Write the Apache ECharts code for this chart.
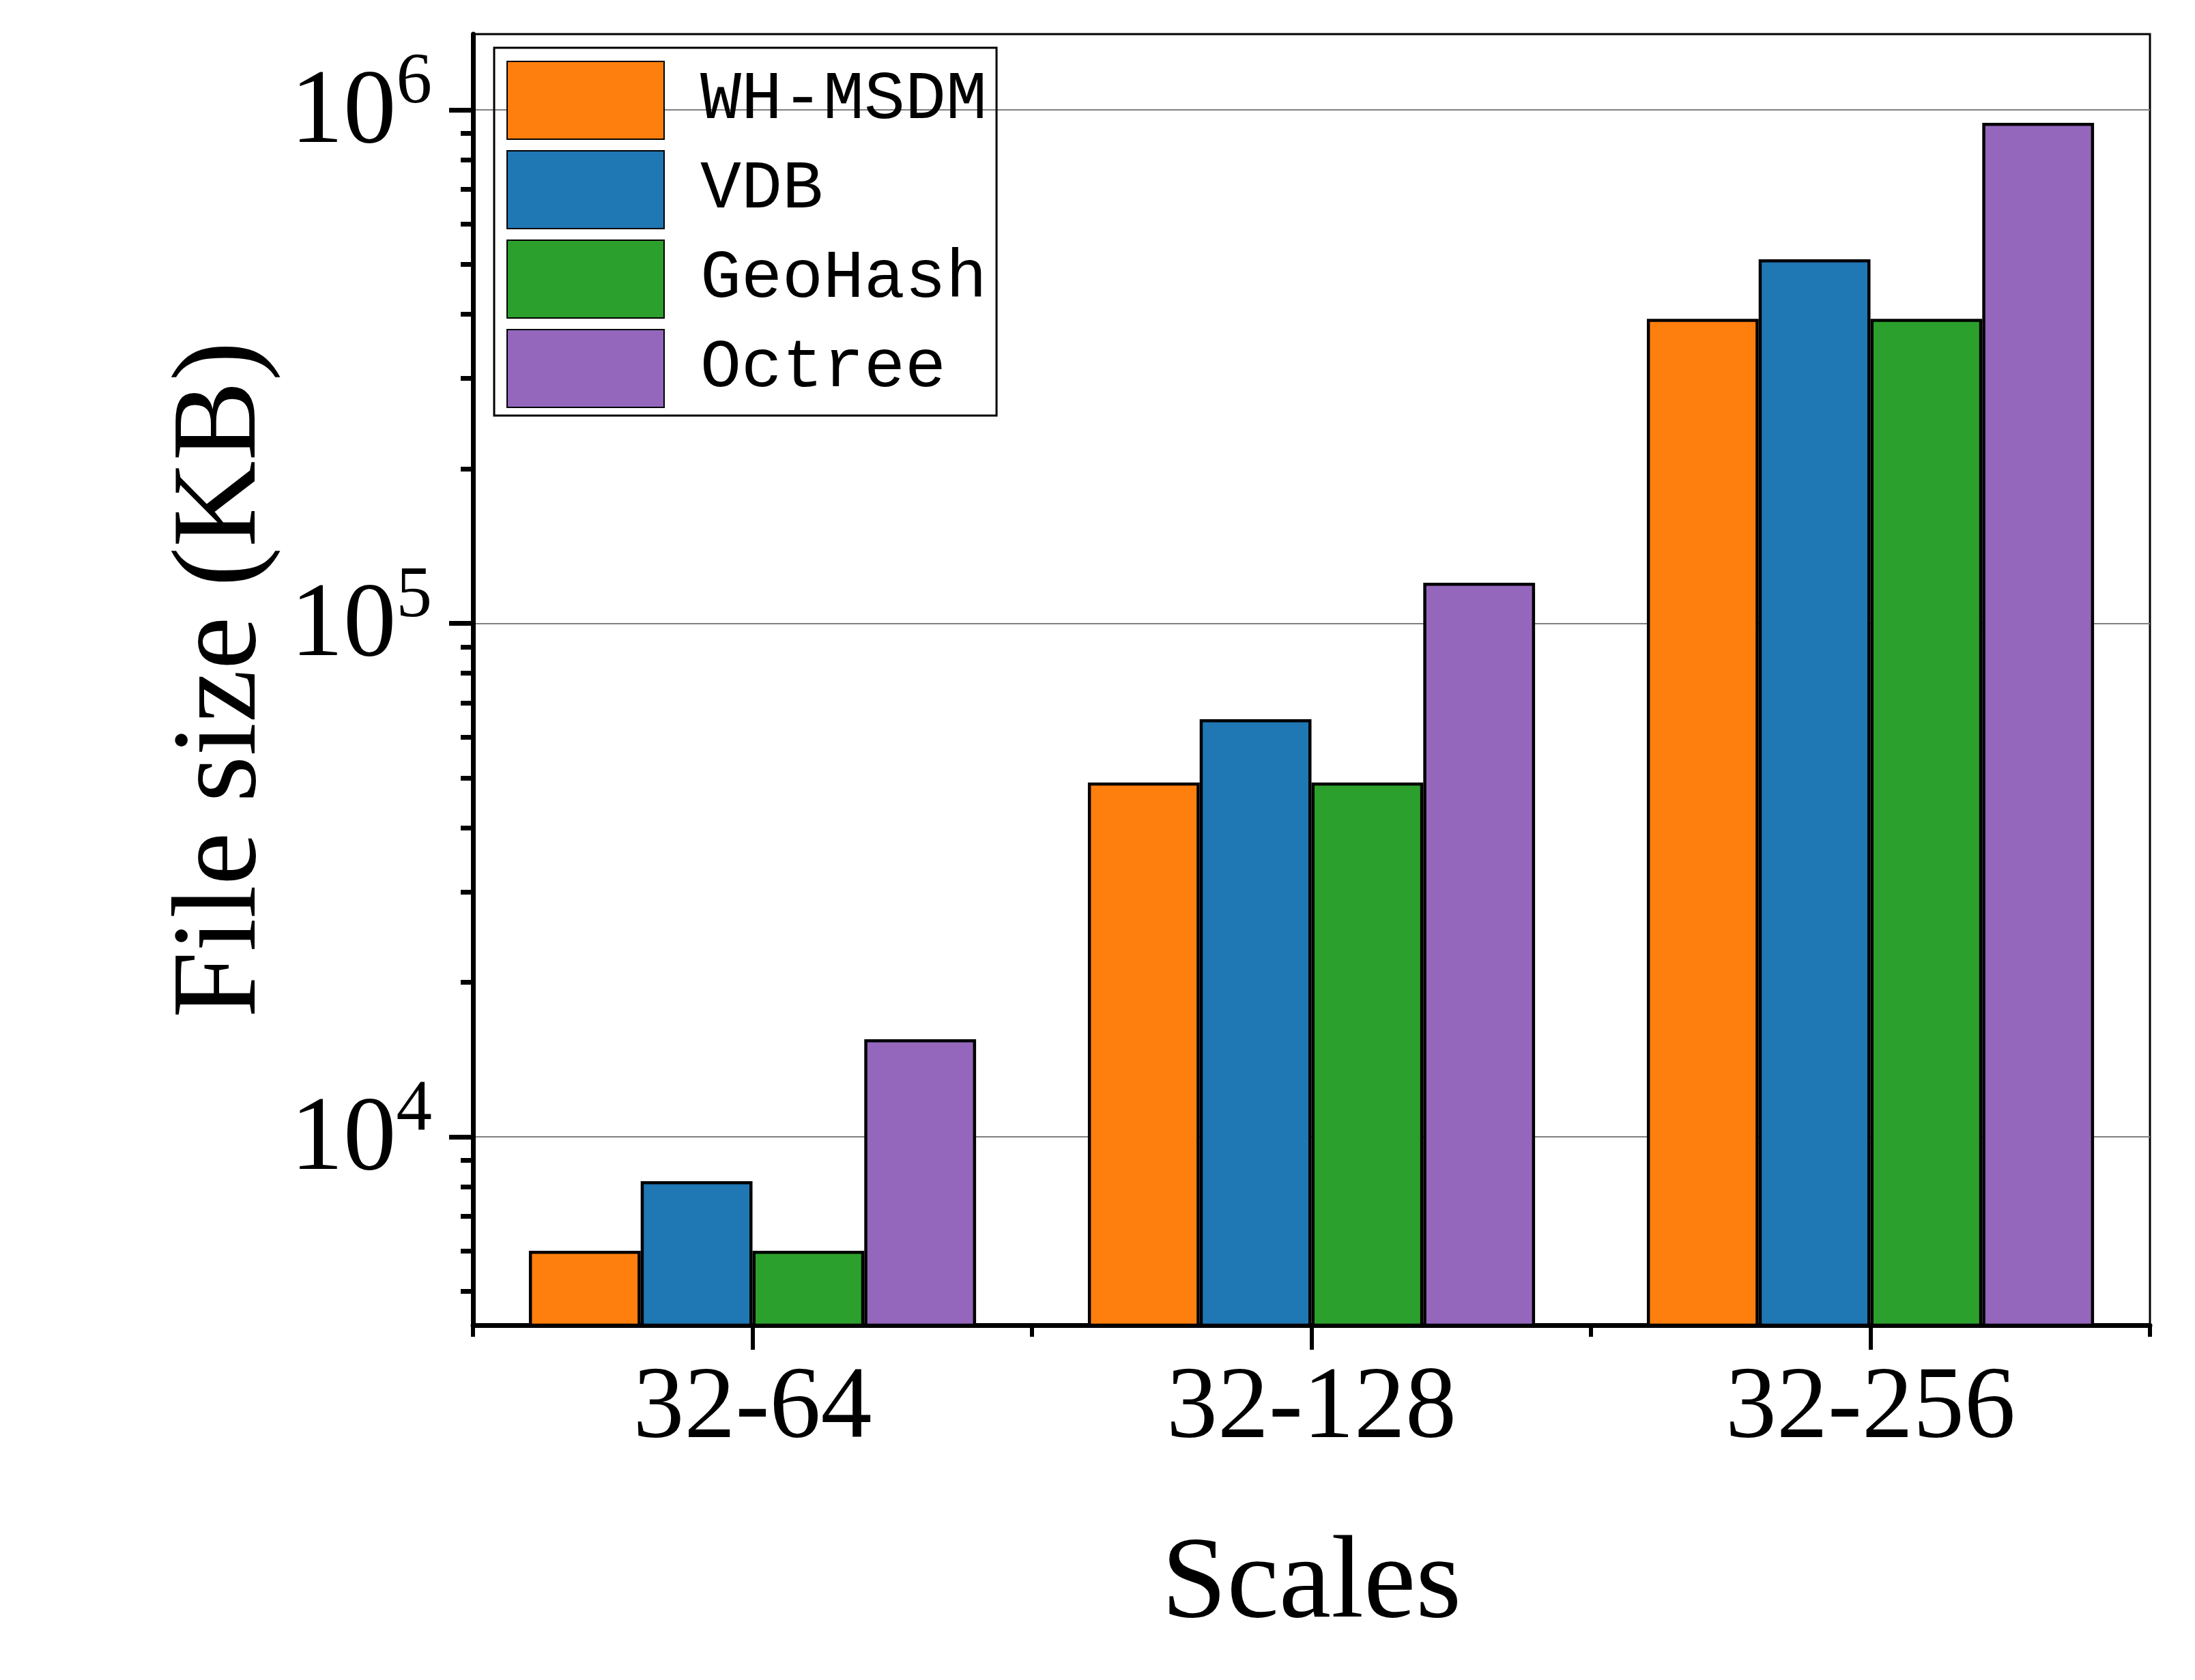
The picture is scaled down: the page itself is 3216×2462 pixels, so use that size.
<!DOCTYPE html>
<html>
<head>
<meta charset="utf-8">
<script src="https://cdn.jsdelivr.net/npm/echarts@6/dist/echarts.min.js"></script>
<style>
  html, body { margin: 0; padding: 0; background: #fff; }
  #main { width: 3216px; height: 2462px; }
</style>
</head>
<body>
<div id="main"></div>
<script>
var scales = ["32-64", "32-128", "32-256"];
var names = ["WH-MSDM", "VDB", "GeoHash", "Octree"];
var colors = ["#ff7f0e", "#1f77b4", "#2ca02c", "#9467bd"];
var whMsdm = [6000, 49000, 392000];
var vdb = [8200, 65100, 512000];
var geoHash = [6000, 49000, 392000];
var octree = [15500, 120000, 944000];
var majorTicks = [1e4, 1e5, 1e6];
var minorTicks = [5000, 6000, 7000, 8000, 9000,
  20000, 30000, 40000, 50000, 60000, 70000, 80000, 90000,
  200000, 300000, 400000, 500000, 600000, 700000, 800000, 900000];
var yMin = 4300, yMax = 1405000;

var serif = "Liberation Serif";
var myChart = echarts.init(document.getElementById("main"));

var seriesData = [whMsdm, vdb, geoHash, octree];
var series = [];
for (var i = 0; i < names.length; i++) {
  series.push({
    name: names[i],
    type: "bar",
    data: seriesData[i],
    barWidth: "20%",
    barGap: "0%",
    itemStyle: { color: colors[i], borderColor: "#000", borderWidth: 4.5 }
  });
}

var option = {
  animation: false,
  backgroundColor: "#fff",
  grid: {
    left: 693, right: 66, top: 50, bottom: 520,
    show: true, borderColor: "#000", borderWidth: 3
  },
  legend: {
    orient: "vertical",
    left: 724, top: 70,
    padding: [19, 14, 11, 18],
    borderColor: "#000", borderWidth: 3,
    itemWidth: 230, itemHeight: 114, itemGap: 15,
    icon: "rect",
    textStyle: { fontFamily: "Liberation Mono", fontSize: 100, color: "#000", padding: [0, 0, 0, 48] },
    data: names
  },
  xAxis: [{
    type: "category",
    data: scales,
    name: "Scales",
    nameLocation: "middle",
    nameGap: 296,
    nameTextStyle: { fontFamily: serif, fontSize: 172, color: "#000" },
    axisLine: { onZero: false, lineStyle: { color: "#000", width: 7 } },
    axisTick: { show: true, length: 17, lineStyle: { color: "#000", width: 6 } },
    axisLabel: { fontFamily: serif, fontSize: 150, color: "#000", margin: 50 },
    splitLine: { show: false }
  }, {
    type: "category",
    data: scales,
    position: "bottom",
    axisLine: { show: false, onZero: false },
    axisTick: { show: true, alignWithLabel: true, length: 36, lineStyle: { color: "#000", width: 6 } },
    axisLabel: { show: false },
    splitLine: { show: false }
  }],
  yAxis: [{
    type: "log",
    min: yMin,
    max: yMax,
    name: "File size (KB)",
    nameLocation: "middle",
    nameGap: 270,
    nameTextStyle: { fontFamily: serif, fontSize: 175, color: "#000" },
    axisLine: { show: true, lineStyle: { color: "#000", width: 7 } },
    axisTick: { show: true, length: 35, customValues: majorTicks, lineStyle: { color: "#000", width: 7 } },
    axisLabel: {
      customValues: majorTicks,
      margin: 60,
      formatter: function (v) {
        return "{b|10}{s|" + Math.round(Math.log10(v)) + "}";
      },
      rich: {
        b: { fontFamily: serif, fontSize: 155, lineHeight: 155, color: "#000", padding: [12, 0, 0, 0] },
        s: { fontFamily: serif, fontSize: 105, lineHeight: 105, color: "#000", padding: [0, 0, 77, 0] }
      }
    },
    splitLine: { show: true, lineStyle: { color: "#808080", width: 2 } }
  }, {
    type: "log",
    min: yMin,
    max: yMax,
    position: "left",
    offset: 0,
    axisLine: { show: false },
    axisTick: { show: true, length: 18, customValues: minorTicks, lineStyle: { color: "#000", width: 7 } },
    axisLabel: { show: false },
    splitLine: { show: false }
  }],
  series: series
};
myChart.setOption(option);
</script>
</body>
</html>
